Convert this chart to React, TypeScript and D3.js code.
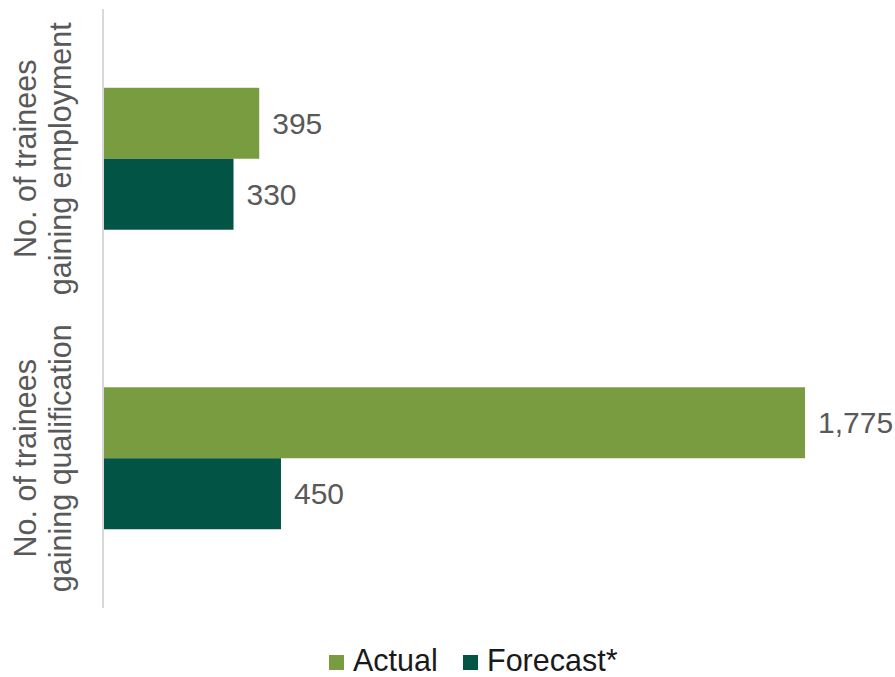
import React from "react";
import * as d3 from "d3";

const categories: string[][] = [
  ["No. of trainees", "gaining employment"],
  ["No. of trainees", "gaining qualification"],
];
const categoryKeys = ["employment", "qualification"];
const seriesNames = ["Actual", "Forecast*"];
const actualValues = [395, 1775];
const forecastValues = [330, 450];
const seriesColors = ["#7A9C41", "#025445"];

const W = 895;
const H = 677;
const FONT = "'Liberation Sans', Arial, sans-serif";

export default function App() {
  const x = d3.scaleLinear().domain([0, 2000]).range([103, 894]);
  const y = d3
    .scaleBand<string>()
    .domain(categoryKeys)
    .range([9, 608])
    .paddingInner(0.526)
    .paddingOuter(0.263);
  const inner = d3
    .scaleBand<string>()
    .domain(seriesNames)
    .range([0, y.bandwidth()]);
  const fmt = d3.format(",");
  const series = [actualValues, forecastValues];

  return (
    <svg
      width={W}
      height={H}
      style={{ position: "absolute", left: 0, top: 0, background: "#fff" }}
      fontFamily={FONT}
    >
      {categoryKeys.map((k, ci) => (
        <g key={k}>
          {series.map((vals, si) => {
            const yy = (y(k) as number) + (inner(seriesNames[si]) as number);
            const v = vals[ci];
            return (
              <g key={si}>
                <rect
                  x={x(0)}
                  y={yy}
                  width={x(v) - x(0)}
                  height={inner.bandwidth()}
                  fill={seriesColors[si]}
                />
                <text
                  x={x(v) + 13}
                  y={yy + inner.bandwidth() / 2}
                  dominantBaseline="central"
                  fontSize={30}
                  fill="#595959"
                >
                  {fmt(v)}
                </text>
              </g>
            );
          })}
          {categories[ci].map((line, li) => {
            const cy = (y(k) as number) + y.bandwidth() / 2;
            const bx = 36 + li * 35;
            return (
              <text
                key={li}
                transform={`translate(${bx},${cy}) rotate(-90)`}
                textAnchor="middle"
                fontSize={30.5}
                fill="#595959"
              >
                {line}
              </text>
            );
          })}
        </g>
      ))}
      <line x1={103} x2={103} y1={9} y2={608} stroke="#D9D9D9" strokeWidth={2} />
      {seriesNames.map((s, i) => {
        const lx = [329, 463][i];
        return (
          <g key={s}>
            <rect x={lx} y={655} width={15} height={15} fill={seriesColors[i]} />
            <text x={lx + 24} y={671} fontSize={30.5} fill="#1a1a1a">
              {s}
            </text>
          </g>
        );
      })}
    </svg>
  );
}
